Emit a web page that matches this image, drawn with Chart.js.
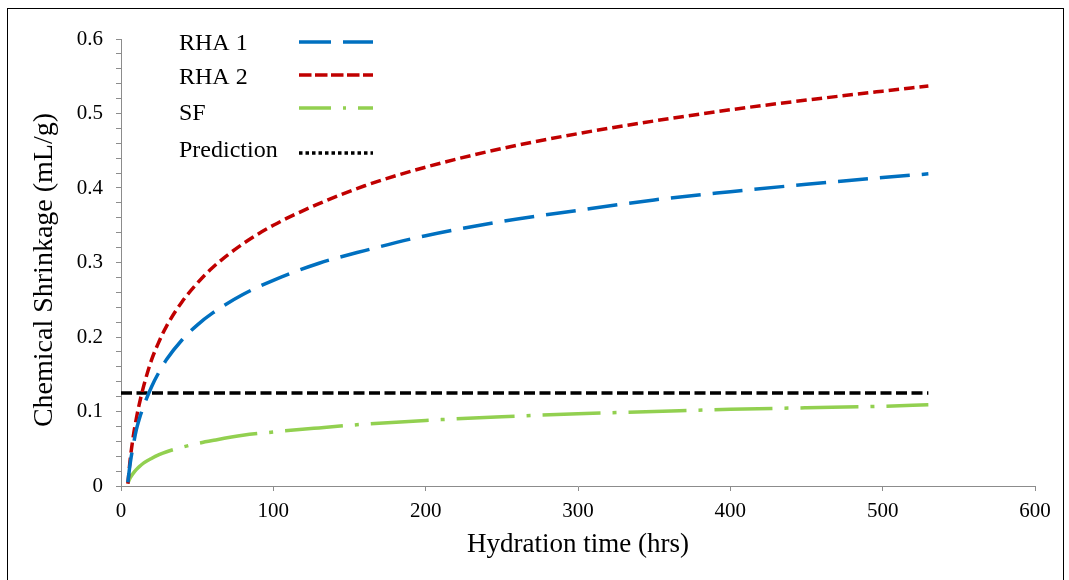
<!DOCTYPE html>
<html>
<head>
<meta charset="utf-8">
<script src="https://cdn.jsdelivr.net/npm/chart.js"></script>
<style>
  html, body { margin: 0; padding: 0; background: #fff; overflow: hidden; }
  #wrap { position: relative; width: 1069px; height: 580px; }
  #frame { position: absolute; left: 7px; top: 8px; width: 1057px; height: 620px; border: 1px solid #000; box-sizing: border-box; pointer-events: none; }
  canvas { position: absolute; left: 0; top: 0; }
</style>
</head>
<body>
<div id="wrap">
  <canvas id="chart" width="1069" height="580"></canvas>
  <div id="frame"></div>
</div>
<script>
// values
const hours = [4.5, 6, 8, 10, 12, 15, 20, 25, 30, 40, 50, 60, 80, 100, 130, 160, 200, 250, 300, 350, 400, 450, 500, 530];
const rha1 = [0.005, 0.030, 0.054, 0.075, 0.090, 0.108, 0.133, 0.153, 0.170, 0.196, 0.216, 0.232, 0.257, 0.276, 0.299, 0.316, 0.336, 0.355, 0.370, 0.384, 0.395, 0.405, 0.414, 0.419];
const rha2 = [0.003, 0.035, 0.066, 0.090, 0.110, 0.135, 0.169, 0.194, 0.215, 0.247, 0.272, 0.293, 0.325, 0.350, 0.379, 0.403, 0.428, 0.453, 0.473, 0.490, 0.505, 0.518, 0.530, 0.537];
const sf = [0.004, 0.011, 0.017, 0.022, 0.026, 0.031, 0.037, 0.042, 0.046, 0.052, 0.057, 0.061, 0.068, 0.0725, 0.078, 0.083, 0.088, 0.093, 0.097, 0.100, 0.103, 0.105, 0.107, 0.109];
const predHours = [0, 530];
const predValue = [0.125, 0.125];

const xTicks = [0, 100, 200, 300, 400, 500, 600];
const seriesNames = ['RHA 1', 'RHA 2', 'SF', 'Prediction'];
const yTitle = 'Chemical Shrinkage (mL/g)';

const axisGray = '#8c8c8c';
const serif = '"Liberation Serif", "Times New Roman", serif';

const toPoints = (xs, ys) => xs.map((x, i) => ({ x: x, y: ys[i] }));

// legend drawn by hand so the keys look like the original (short samples)
const legendRows = [
  { color: '#0070C0', dash: [32, 12], textY: 44, lineY: 42 },
  { color: '#C00000', dash: [12.5, 3.5], textY: 78, lineY: 75 },
  { color: '#92D050', dash: [32, 12, 3, 12], textY: 114, lineY: 108 },
  { color: '#000000', dash: [3.5, 3], textY: 151, lineY: 153 }
];

const extrasPlugin = {
  id: 'extras',
  afterDraw(chart) {
    const ctx = chart.ctx;
    ctx.save();
    ctx.font = '24px ' + serif;
    ctx.fillStyle = '#000';
    ctx.textBaseline = 'middle';
    ctx.textAlign = 'left';
    legendRows.forEach((row, i) => {
      ctx.fillText(seriesNames[i], 179, row.textY);
      ctx.beginPath();
      ctx.strokeStyle = row.color;
      ctx.lineWidth = 3.5;
      ctx.setLineDash(row.dash);
      ctx.moveTo(299, row.lineY);
      ctx.lineTo(373, row.lineY);
      ctx.stroke();
    });
    ctx.restore();

    // y axis title sits a little below the plot centre in the original
    ctx.save();
    ctx.font = '28px ' + serif;
    ctx.fillStyle = '#000';
    ctx.textAlign = 'center';
    ctx.textBaseline = 'middle';
    ctx.translate(45, 270);
    ctx.rotate(-Math.PI / 2);
    ctx.fillText(yTitle, 0, 0);
    ctx.restore();
  }
};

new Chart(document.getElementById('chart'), {
  type: 'line',
  data: {
    datasets: [
      { label: seriesNames[0], data: toPoints(hours, rha1), borderColor: '#0070C0', borderWidth: 3.5, borderDash: [30, 12] },
      { label: seriesNames[1], data: toPoints(hours, rha2), borderColor: '#C00000', borderWidth: 3.5, borderDash: [10.5, 5] },
      { label: seriesNames[2], data: toPoints(hours, sf), borderColor: '#92D050', borderWidth: 3.5, borderDash: [58, 12, 4, 12] },
      { label: seriesNames[3], data: toPoints(predHours, predValue), borderColor: '#000000', borderWidth: 3.5, borderDash: [11, 4.5] }
    ]
  },
  options: {
    responsive: false,
    animation: false,
    events: [],
    layout: { padding: { left: 0, top: 39, right: 34, bottom: 0 } },
    elements: {
      point: { radius: 0 },
      line: { cubicInterpolationMode: 'monotone', fill: false }
    },
    plugins: { legend: { display: false }, tooltip: { enabled: false } },
    scales: {
      x: {
        type: 'linear',
        min: 0,
        max: 600,
        afterFit: s => { s.height = 94; },
        afterBuildTicks: s => { s.ticks = xTicks.map(v => ({ value: v })); },
        grid: { drawOnChartArea: false, drawTicks: true, tickLength: 5, color: axisGray },
        border: { color: axisGray, width: 1 },
        ticks: { color: '#000', font: { family: serif, size: 21 }, padding: 8, maxRotation: 0 },
        title: { display: true, text: 'Hydration time (hrs)', color: '#000', font: { family: serif, size: 27 }, padding: { top: 0, bottom: 19 } }
      },
      y: {
        min: 0,
        max: 0.6,
        afterFit: s => { s.width = 121; },
        grid: { drawOnChartArea: false, drawTicks: true, tickLength: 5, color: axisGray },
        border: { color: axisGray, width: 1 },
        ticks: {
          stepSize: 0.02,
          autoSkip: false,
          color: '#000',
          font: { family: serif, size: 21 },
          padding: 13,
          callback: v => {
            const k = Math.round(v * 100);
            if (k % 10 !== 0) return '';
            return k === 0 ? '0' : (k / 100).toFixed(1);
          }
        },
        title: { display: false }
      }
    }
  },
  plugins: [extrasPlugin]
});
</script>
</body>
</html>
